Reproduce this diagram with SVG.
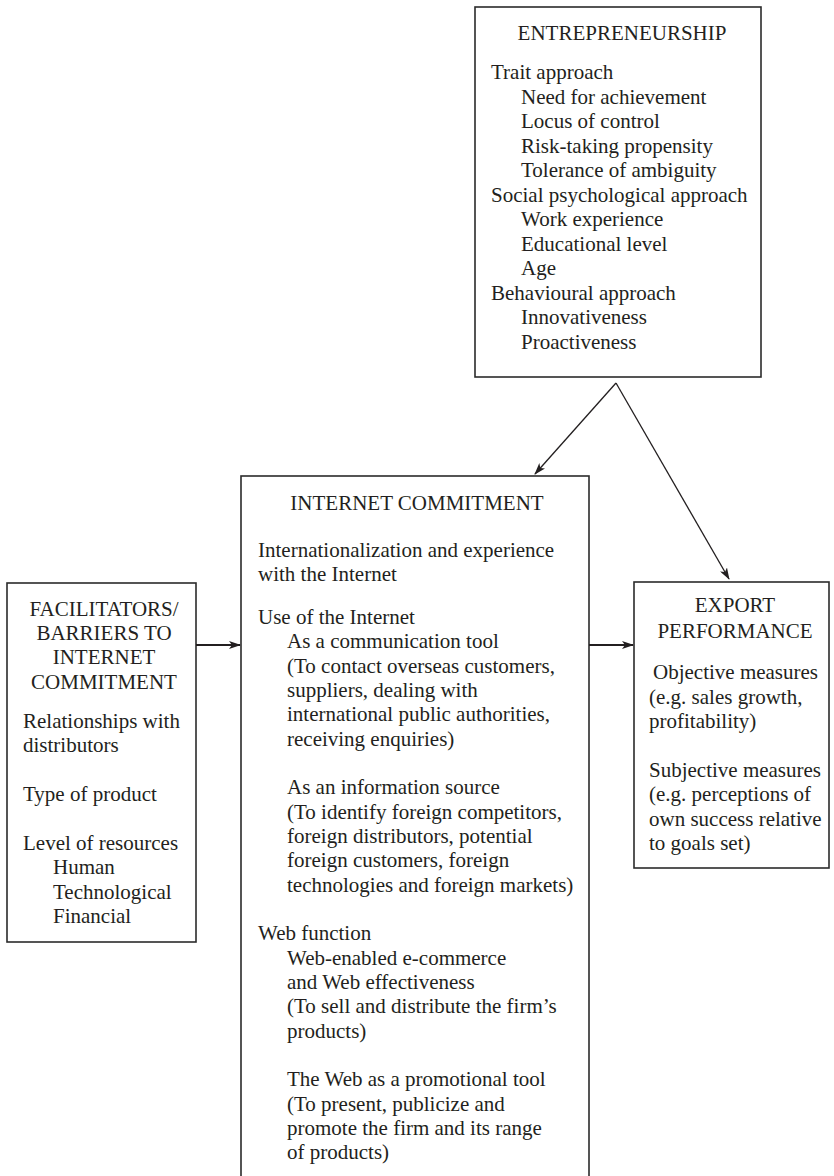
<svg xmlns="http://www.w3.org/2000/svg" width="834" height="1176" viewBox="0 0 834 1176">
  <style>
    .box { fill: #ffffff; stroke: #2b2b2b; stroke-width: 1.6; }
    text { font-family: "Liberation Serif", "Times New Roman", serif; font-size: 21px; fill: #231f20; }
    .head { text-anchor: middle; }
    .link { fill: none; stroke: #231f20; stroke-width: 1.3; }
    .link-bold { fill: none; stroke: #231f20; stroke-width: 2.2; }
  </style>
  <defs>
    <marker id="barb" viewBox="0 0 12 8" refX="11" refY="4" markerWidth="12" markerHeight="8" markerUnits="userSpaceOnUse" orient="auto">
      <path d="M0,0 L12,4 L0,8 L3,4 z" fill="#231f20"/>
    </marker>
    <marker id="barb-bold" viewBox="0 0 12 8" refX="11" refY="4" markerWidth="12" markerHeight="9" markerUnits="userSpaceOnUse" orient="auto">
      <path d="M0,0 L12,4 L0,8 L3,4 z" fill="#231f20"/>
    </marker>
  </defs>

  <rect width="834" height="1176" fill="#ffffff"/>

  <!-- Entrepreneurship -->
  <g id="entrepreneurship">
    <rect class="box" x="475" y="7" width="286" height="370"/>
    <text class="head" x="622" y="40">ENTREPRENEURSHIP</text>
    <text x="491" y="79">Trait approach</text>
    <text x="521" y="103.5">Need for achievement</text>
    <text x="521" y="128">Locus of control</text>
    <text x="521" y="152.5">Risk-taking propensity</text>
    <text x="521" y="177">Tolerance of ambiguity</text>
    <text x="491" y="201.5">Social psychological approach</text>
    <text x="521" y="226">Work experience</text>
    <text x="521" y="250.5">Educational level</text>
    <text x="521" y="275">Age</text>
    <text x="491" y="299.5">Behavioural approach</text>
    <text x="521" y="324">Innovativeness</text>
    <text x="521" y="348.5">Proactiveness</text>
  </g>

  <!-- Internet commitment (box runs past the lower edge) -->
  <g id="internet-commitment">
    <rect class="box" x="241" y="476" width="348" height="720"/>
    <text class="head" x="417" y="510">INTERNET COMMITMENT</text>
    <text x="258" y="557">Internationalization and experience</text>
    <text x="258" y="581">with the Internet</text>
    <text x="258" y="624">Use of the Internet</text>
    <text x="287" y="648">As a communication tool</text>
    <text x="287" y="672.5">(To contact overseas customers,</text>
    <text x="287" y="697">suppliers, dealing with</text>
    <text x="287" y="721">international public authorities,</text>
    <text x="287" y="745.5">receiving enquiries)</text>
    <text x="287" y="794">As an information source</text>
    <text x="287" y="818.5">(To identify foreign competitors,</text>
    <text x="287" y="843">foreign distributors, potential</text>
    <text x="287" y="867">foreign customers, foreign</text>
    <text x="287" y="892">technologies and foreign markets)</text>
    <text x="258" y="940">Web function</text>
    <text x="287" y="964.5">Web-enabled e-commerce</text>
    <text x="287" y="989">and Web effectiveness</text>
    <text x="287" y="1013">(To sell and distribute the firm’s</text>
    <text x="287" y="1037.5">products)</text>
    <text x="287" y="1086">The Web as a promotional tool</text>
    <text x="287" y="1110.5">(To present, publicize and</text>
    <text x="287" y="1135">promote the firm and its range</text>
    <text x="287" y="1159">of products)</text>
  </g>

  <!-- Facilitators / barriers -->
  <g id="facilitators-barriers">
    <rect class="box" x="7" y="583" width="189" height="359"/>
    <text class="head" x="104" y="616">FACILITATORS/</text>
    <text class="head" x="104" y="640">BARRIERS TO</text>
    <text class="head" x="104" y="664">INTERNET</text>
    <text class="head" x="104" y="689">COMMITMENT</text>
    <text x="23" y="728">Relationships with</text>
    <text x="23" y="752">distributors</text>
    <text x="23" y="801">Type of product</text>
    <text x="23" y="850">Level of resources</text>
    <text x="53" y="874">Human</text>
    <text x="53" y="899">Technological</text>
    <text x="53" y="923">Financial</text>
  </g>

  <!-- Export performance -->
  <g id="export-performance">
    <rect class="box" x="634" y="582" width="195" height="286"/>
    <text class="head" x="735" y="612">EXPORT</text>
    <text class="head" x="735" y="638">PERFORMANCE</text>
    <text x="653" y="679">Objective measures</text>
    <text x="649" y="704">(e.g. sales growth,</text>
    <text x="649" y="728">profitability)</text>
    <text x="649" y="777">Subjective measures</text>
    <text x="649" y="801">(e.g. perceptions of</text>
    <text x="649" y="826">own success relative</text>
    <text x="649" y="850">to goals set)</text>
  </g>

  <!-- Connectors -->
  <g id="connectors">
    <path class="link" d="M616,383 L535,474" marker-end="url(#barb)"/>
    <path class="link" d="M616,383 L729,579" marker-end="url(#barb)"/>
    <path class="link-bold" d="M196,645 L240,645" marker-end="url(#barb-bold)"/>
    <path class="link-bold" d="M589,645 L633,645" marker-end="url(#barb-bold)"/>
  </g>
</svg>
